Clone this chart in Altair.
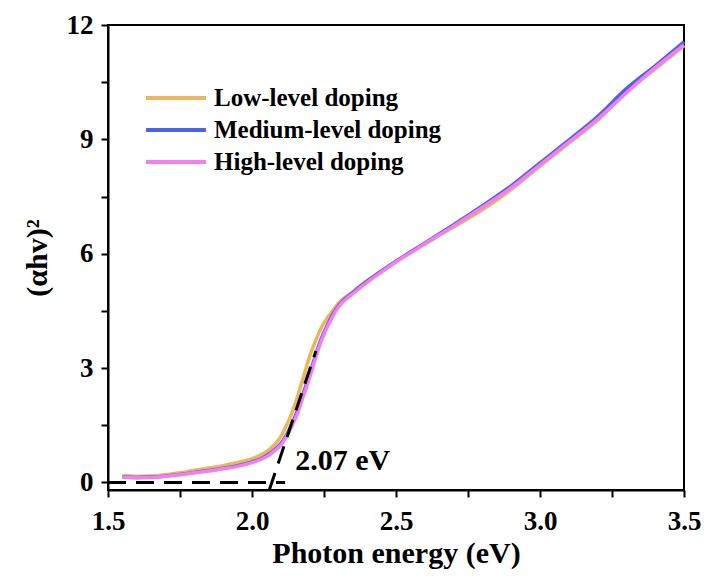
import altair as alt
import pandas as pd

# ---- data ----
energy = [1.55, 1.60, 1.65, 1.70, 1.75, 1.80, 1.85, 1.90, 1.95, 2.00,
          2.03, 2.06, 2.08, 2.10, 2.12, 2.14, 2.16, 2.18, 2.20, 2.22,
          2.24, 2.26, 2.28, 2.30, 2.35, 2.40, 2.45, 2.50, 2.60, 2.70,
          2.80, 2.90, 3.00, 3.10, 3.20, 3.30, 3.40, 3.50]
low = [0.18, 0.16, 0.17, 0.20, 0.25, 0.32, 0.38, 0.44, 0.52, 0.62,
       0.72, 0.86, 1.00, 1.20, 1.50, 1.85, 2.30, 2.80, 3.30, 3.70,
       4.05, 4.30, 4.50, 4.70, 5.00, 5.30, 5.55, 5.80, 6.25, 6.70,
       7.15, 7.68, 8.30, 8.90, 9.50, 10.25, 10.85, 11.45]
medium = [0.15, 0.13, 0.14, 0.17, 0.21, 0.26, 0.31, 0.37, 0.44, 0.54,
          0.62, 0.75, 0.87, 1.02, 1.25, 1.56, 1.92, 2.38, 2.83, 3.32,
          3.76, 4.10, 4.40, 4.63, 4.98, 5.28, 5.55, 5.80, 6.28, 6.76,
          7.26, 7.78, 8.38, 8.98, 9.60, 10.33, 10.93, 11.56]
high = [0.14, 0.12, 0.13, 0.16, 0.20, 0.25, 0.30, 0.36, 0.42, 0.52,
        0.60, 0.72, 0.84, 0.98, 1.20, 1.50, 1.85, 2.30, 2.75, 3.25,
        3.70, 4.05, 4.35, 4.60, 4.95, 5.25, 5.52, 5.78, 6.26, 6.73,
        7.22, 7.73, 8.33, 8.93, 9.53, 10.22, 10.88, 11.48]
series_names = ["Low-level doping", "Medium-level doping", "High-level doping"]
series_colors = ["#EBB65C", "#4C63E9", "#F57DF2"]

baseline_x = [1.5, 2.115]
baseline_y = [0.0, 0.0]
tangent_x = [2.06, 2.222]
tangent_y = [-0.2, 3.45]
gap_text = ["2.07 eV"]
gap_text_x = [2.15]
gap_text_y = [0.55]

x_ticks = [1.5, 1.75, 2.0, 2.25, 2.5, 2.75, 3.0, 3.25, 3.5]
y_ticks = [0, 1.5, 3, 4.5, 6, 7.5, 9, 10.5, 12]

# ---- tables ----
rows = []
for name, vals in zip(series_names, [low, medium, high]):
    for e, v in zip(energy, vals):
        rows.append({"energy": e, "value": v, "series": name})
curves = pd.DataFrame(rows)

dash_rows = []
for e, v in zip(baseline_x, baseline_y):
    dash_rows.append({"energy": e, "value": v, "seg": "baseline"})
for e, v in zip(tangent_x, tangent_y):
    dash_rows.append({"energy": e, "value": v, "seg": "tangent"})
dashes = pd.DataFrame(dash_rows)

labels = pd.DataFrame({"energy": gap_text_x, "value": gap_text_y, "text": gap_text})

FONT = "Liberation Serif"
xscale = alt.Scale(domain=[1.5, 3.5], nice=False, zero=False)
yscale = alt.Scale(domain=[-0.2, 12], nice=False, zero=False)

common_axis = dict(grid=False, domainColor="black", domainWidth=2,
                   tickColor="black", tickWidth=2, tickSize=7,
                   labelFont=FONT, labelFontWeight="bold", labelFontSize=27,
                   labelColor="black", titleFont=FONT, titleFontWeight="bold",
                   titleFontSize=30, titleColor="black")

x_axis = alt.Axis(orient="bottom", values=x_ticks,
                  labelExpr="round(datum.value*4) % 2 === 0 ? format(datum.value, '.1f') : ''",
                  labelPadding=11, title="Photon energy (eV)", titlePadding=4,
                  labelFlush=False, labelOverlap=False, **common_axis)
y_axis = alt.Axis(orient="left", values=y_ticks,
                  labelExpr="datum.value % 3 === 0 ? format(datum.value, 'd') : ''",
                  labelPadding=8, title="(αhv)²", titlePadding=14,
                  labelOverlap=False, **common_axis)

X = alt.X("energy:Q", scale=xscale, axis=x_axis)
Y = alt.Y("value:Q", scale=yscale, axis=y_axis)

lines = alt.Chart(curves).mark_line(strokeWidth=3.5, interpolate="monotone").encode(
    x=X, y=Y,
    color=alt.Color("series:N",
                    scale=alt.Scale(domain=series_names, range=series_colors),
                    sort=series_names,
                    legend=alt.Legend(orient="none", legendX=36, legendY=57,
                                      title=None, symbolType="stroke",
                                      symbolSize=3600, symbolStrokeWidth=4,
                                      clipHeight=32, rowPadding=0, padding=0,
                                      labelFont=FONT, labelFontWeight="bold",
                                      labelFontSize=25, labelColor="black",
                                      labelOffset=6, labelLimit=400)),
    order=alt.Order("energy:Q"),
)

dash_layer = alt.Chart(dashes).mark_line(color="black", strokeWidth=3,
                                         strokeDash=[18, 10]).encode(
    x=X, y=Y, detail="seg:N",
)

text_layer = alt.Chart(labels).mark_text(font=FONT, fontWeight="bold", fontSize=30,
                                         align="left", baseline="middle",
                                         color="black").encode(
    x=X, y=Y, text="text:N",
)

chart = alt.layer(lines, dash_layer, text_layer).properties(
    width=576, height=465,
    autosize=alt.AutoSizeParams(type="none"),
    padding={"left": 108, "top": 25, "right": 24, "bottom": 89},
    background="white",
).configure_view(stroke="black", strokeWidth=2)

chart.save("out.html", embed_options={"renderer": "svg", "actions": False})
